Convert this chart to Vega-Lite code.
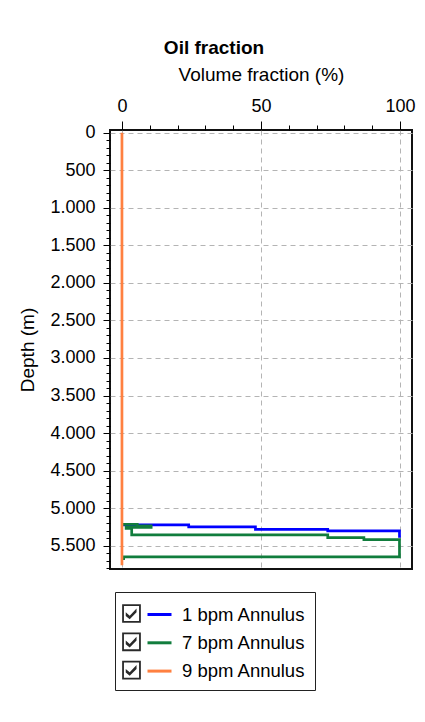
{
  "$schema": "https://vega.github.io/schema/vega-lite/v6.json",
  "width": 302,
  "height": 439,
  "autosize": "none",
  "padding": {"left": 110, "top": 130, "right": 13, "bottom": 153},
  "background": "white",
  "title": {"text": "Oil fraction", "font": "Liberation Sans", "fontSize": 19, "fontWeight": "bold", "color": "#000", "anchor": "middle", "frame": "group", "dx": -47, "offset": 8},
  "config": {"view": {"stroke": "#111", "strokeWidth": 2}, "font": "Liberation Sans"},
  "data": {"values": [
    {"s": "1 bpm Annulus", "cb": "cb1", "i": 1, "x": 0, "d": 5222},
    {"s": "1 bpm Annulus", "cb": "cb1", "i": 2, "x": 24, "d": 5222},
    {"s": "1 bpm Annulus", "cb": "cb1", "i": 3, "x": 24, "d": 5250},
    {"s": "1 bpm Annulus", "cb": "cb1", "i": 4, "x": 48, "d": 5250},
    {"s": "1 bpm Annulus", "cb": "cb1", "i": 5, "x": 48, "d": 5282},
    {"s": "1 bpm Annulus", "cb": "cb1", "i": 6, "x": 74, "d": 5282},
    {"s": "1 bpm Annulus", "cb": "cb1", "i": 7, "x": 74, "d": 5302},
    {"s": "1 bpm Annulus", "cb": "cb1", "i": 8, "x": 99.8, "d": 5302},
    {"s": "1 bpm Annulus", "cb": "cb1", "i": 9, "x": 99.8, "d": 5395},
    {"s": "7 bpm Annulus", "cb": "cb7", "i": 1, "x": 0, "d": 5215},
    {"s": "7 bpm Annulus", "cb": "cb7", "i": 2, "x": 5.5, "d": 5215},
    {"s": "7 bpm Annulus", "cb": "cb7", "i": 3, "x": 5.5, "d": 5235},
    {"s": "7 bpm Annulus", "cb": "cb7", "i": 4, "x": 10.5, "d": 5235},
    {"s": "7 bpm Annulus", "cb": "cb7", "i": 5, "x": 10.5, "d": 5255},
    {"s": "7 bpm Annulus", "cb": "cb7", "i": 6, "x": 1.5, "d": 5255},
    {"s": "7 bpm Annulus", "cb": "cb7", "i": 7, "x": 1.5, "d": 5268},
    {"s": "7 bpm Annulus", "cb": "cb7", "i": 8, "x": 3.5, "d": 5268},
    {"s": "7 bpm Annulus", "cb": "cb7", "i": 9, "x": 3.5, "d": 5355},
    {"s": "7 bpm Annulus", "cb": "cb7", "i": 10, "x": 74, "d": 5355},
    {"s": "7 bpm Annulus", "cb": "cb7", "i": 11, "x": 74, "d": 5392},
    {"s": "7 bpm Annulus", "cb": "cb7", "i": 12, "x": 87, "d": 5392},
    {"s": "7 bpm Annulus", "cb": "cb7", "i": 13, "x": 87, "d": 5418},
    {"s": "7 bpm Annulus", "cb": "cb7", "i": 14, "x": 99.8, "d": 5418},
    {"s": "7 bpm Annulus", "cb": "cb7", "i": 15, "x": 99.8, "d": 5648},
    {"s": "7 bpm Annulus", "cb": "cb7", "i": 16, "x": 0.6, "d": 5648},
    {"s": "7 bpm Annulus", "cb": "cb7", "i": 17, "x": 0.6, "d": 5690},
    {"s": "9 bpm Annulus", "cb": "cb9", "i": 0, "x": 0, "d": 0},
    {"s": "9 bpm Annulus", "cb": "cb9", "i": 1, "x": 0, "d": 5760}
  ]},
  "encoding": {
    "x": {
      "field": "x", "type": "quantitative",
      "scale": {"domain": [-4.3, 104.3], "nice": false, "zero": false},
      "axis": {
        "orient": "top",
        "title": "Volume fraction (%)",
        "titleFont": "Liberation Sans", "titleFontSize": 19, "titleFontWeight": "normal", "titleColor": "#000",
        "titleBaseline": "alphabetic", "titleY": -49.5,
        "values": [0, 10, 20, 30, 40, 50, 60, 70, 80, 90, 100],
        "labelExpr": "datum.value % 50 === 0 ? datum.label : ''",
        "labelFont": "Liberation Sans", "labelFontSize": 18, "labelColor": "#000", "labelPadding": 6,
        "labelOverlap": false, "labelFlush": false,
        "tickSize": {"condition": {"test": "datum.value % 50 === 0", "value": 9}, "value": 5},
        "tickColor": "#000", "tickWidth": 1,
        "domain": false,
        "grid": true, "gridDash": [5, 4], "gridColor": "#b4b4b4", "gridWidth": 1,
        "gridOpacity": {"condition": {"test": "datum.value % 50 === 0", "value": 1}, "value": 0}
      }
    },
    "y": {
      "field": "d", "type": "quantitative",
      "scale": {"domain": [-36, 5810], "nice": false, "zero": false, "reverse": true},
      "axis": {
        "title": "Depth (m)",
        "titleFont": "Liberation Sans", "titleFontSize": 19, "titleFontWeight": "normal", "titleColor": "#000",
        "titleBaseline": "alphabetic", "titleX": -76.5, "titleY": 219.5, "titleAngle": -90, "titleAlign": "center",
        "values": [0,100,200,300,400,500,600,700,800,900,1000,1100,1200,1300,1400,1500,1600,1700,1800,1900,2000,2100,2200,2300,2400,2500,2600,2700,2800,2900,3000,3100,3200,3300,3400,3500,3600,3700,3800,3900,4000,4100,4200,4300,4400,4500,4600,4700,4800,4900,5000,5100,5200,5300,5400,5500,5600,5700,5800],
        "labelExpr": "datum.value % 500 === 0 ? replace(format(datum.value, ','), ',', '.') : ''",
        "labelFont": "Liberation Sans", "labelFontSize": 18, "labelColor": "#000", "labelPadding": 8,
        "labelOverlap": false, "labelFlush": false,
        "tickSize": {"condition": {"test": "datum.value % 500 === 0", "value": 7}, "value": 4},
        "tickColor": "#000", "tickWidth": 1,
        "domain": false,
        "grid": true, "gridDash": [5, 4], "gridColor": "#b4b4b4", "gridWidth": 1,
        "gridOpacity": {"condition": {"test": "datum.value % 500 === 0", "value": 1}, "value": 0}
      }
    }
  },
  "layer": [
    {
      "mark": {"type": "line", "strokeWidth": 2.7, "clip": true},
      "encoding": {
        "order": {"field": "i", "type": "quantitative"},
        "color": {
          "field": "s", "type": "nominal",
          "scale": {"domain": ["1 bpm Annulus", "7 bpm Annulus", "9 bpm Annulus"], "range": ["#0000ff", "#117d3d", "#ff8040"]},
          "legend": {
            "orient": "none", "legendX": 5, "legendY": 462, "title": null,
            "strokeColor": "#222", "fillColor": "white", "padding": 9,
            "symbolType": "stroke", "symbolSize": 576, "symbolStrokeWidth": 3, "symbolOffset": 22,
            "labelOffset": 9, "labelFont": "Liberation Sans", "labelFontSize": 18.5, "labelColor": "#000",
            "rowPadding": 5.3, "labelLimit": 300, "zindex": 0
          }
        }
      }
    },
    {
      "mark": {"type": "point", "opacity": 0, "filled": true, "color": "#2a2a2a", "clip": true},
      "encoding": {
        "shape": {
          "field": "cb", "type": "nominal",
          "scale": {"domain": ["cb1", "cb7", "cb9"], "range": [
            "M-0.78,-0.78 H0.78 V0.78 H-0.78 Z M-0.63,-0.63 V0.63 H0.63 V-0.63 Z M-0.48,-0.1 L-0.15,0.18 L0.42,-0.42 L0.42,-0.1 L-0.15,0.48 L-0.48,0.2 Z",
            "M-0.78,-0.78 H0.78 V0.78 H-0.78 Z M-0.63,-0.63 V0.63 H0.63 V-0.63 Z M-0.48,-0.1 L-0.15,0.18 L0.42,-0.42 L0.42,-0.1 L-0.15,0.48 L-0.48,0.2 Z",
            "M-0.78,-0.78 H0.78 V0.78 H-0.78 Z M-0.63,-0.63 V0.63 H0.63 V-0.63 Z M-0.48,-0.1 L-0.15,0.18 L0.42,-0.42 L0.42,-0.1 L-0.15,0.48 L-0.48,0.2 Z"
          ]},
          "legend": {
            "orient": "none", "legendX": 0, "legendY": 462, "title": null,
            "padding": 9, "symbolSize": 576, "symbolOffset": 0,
            "symbolFillColor": "#2a2a2a", "symbolStrokeColor": "#2a2a2a", "symbolStrokeWidth": 0.3, "symbolOpacity": 1,
            "labelOffset": 9, "labelFont": "Liberation Sans", "labelFontSize": 18.5, "labelOpacity": 0,
            "rowPadding": 5.3, "labelLimit": 300, "zindex": 1
          }
        }
      }
    }
  ]
}
